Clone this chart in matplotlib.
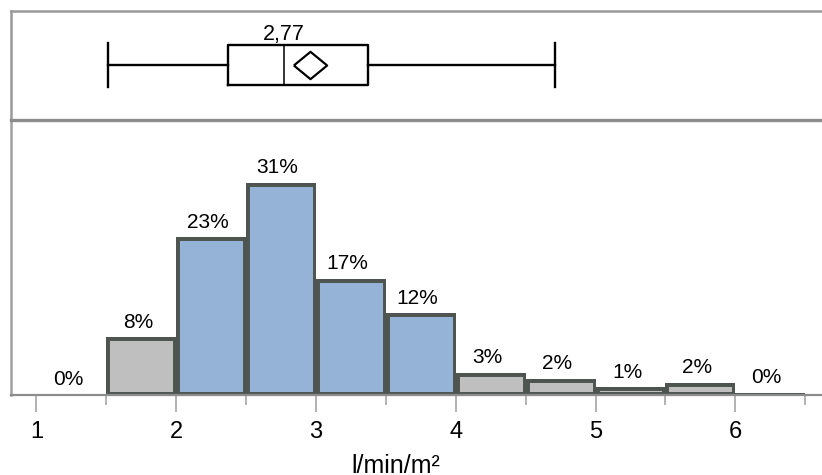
import matplotlib
matplotlib.use("Agg")
import matplotlib.pyplot as plt

plt.rcParams['font.family'] = ['Liberation Sans', 'DejaVu Sans']

# ── data ─────────────────────────────────────────────
# histogram: bins of 0.5 l/min/m², share of patients in %
bin_left = [1.0, 1.5, 2.0, 2.5, 3.0, 3.5, 4.0, 4.5, 5.0, 5.5, 6.0]
share = [0.0, 8.4, 23.0, 31.0, 16.9, 11.9, 3.2, 2.4, 1.1, 1.8, 0.3]
in_range = [False, False, True, True, True, True, False, False, False, False, False]
bin_width = 0.5

# box plot summary
whisker_low = 1.51
q1 = 2.37
median = 2.77
q3 = 3.37
whisker_high = 4.71
mean = 2.96

major_ticks = [1, 2, 3, 4, 5, 6]
minor_ticks = [1.5, 2.5, 3.5, 4.5, 5.5, 6.5]
x_label = 'l/min/m²'

# ── layout ───────────────────────────────────────────
W, H = 822, 475
fig = plt.figure(figsize=(W / 100, H / 100), dpi=100)
left = 11 / W
ax_hist = fig.add_axes([left, (H - 395) / H, 1 - left, (395 - 119.5) / H])
ax_box = fig.add_axes([left, (H - 119.5) / H, 1 - left, (119.5 - 10.5) / H])
ax_box.patch.set_visible(False)

xlim = (0.818, 6.62)

# ── box plot ─────────────────────────────────────────
stats = [dict(med=median, q1=q1, q3=q3, whislo=whisker_low,
              whishi=whisker_high, mean=mean, fliers=[])]
diamond = [(-1, 0), (0, 0.82), (1, 0), (0, -0.82), (-1, 0)]
box_w = 0.376
ax_box.bxp(stats, positions=[0.5], widths=box_w, capwidths=0.41,
           orientation='horizontal', showmeans=True, showfliers=False,
           boxprops=dict(color='black', linewidth=1.7),
           whiskerprops=dict(color='black', linewidth=1.7),
           capprops=dict(color='black', linewidth=1.7),
           medianprops=dict(color='black', linewidth=1.1),
           meanprops=dict(marker=diamond, markersize=24,
                          markerfacecolor='none', markeredgecolor='black',
                          markeredgewidth=1.6))
ax_box.annotate(f'{median:.2f}'.replace('.', ','),
                xy=(median, 0.5 + box_w / 2), xytext=(0, 3),
                textcoords='offset points', ha='center', va='baseline',
                fontsize=15.5)
ax_box.set_xlim(*xlim)
ax_box.set_ylim(0, 1)
ax_box.set_xticks([])
ax_box.set_yticks([])
ax_box.spines['right'].set_visible(False)
ax_box.spines['top'].set_color('#999999')
ax_box.spines['top'].set_linewidth(1.8)
ax_box.spines['left'].set_color('#999999')
ax_box.spines['left'].set_linewidth(1.8)
ax_box.spines['bottom'].set_color('#8c8c8c')
ax_box.spines['bottom'].set_linewidth(2.4)

# ── histogram ────────────────────────────────────────
colors = ['#95b3d7' if r else '#bfbfbf' for r in in_range]
bars = ax_hist.bar(bin_left, share, width=bin_width, align='edge',
                   color=colors, edgecolor='#4e5550', linewidth=5)
# keep only the inner half of each outline
for b in bars:
    b.set_clip_path(b)

for x, v in zip(bin_left, share):
    ax_hist.annotate(f'{v:.0f}%', xy=(x + bin_width / 2, v), xytext=(-2.5, 7),
                     textcoords='offset points', ha='center', va='baseline',
                     fontsize=15)

ax_hist.set_xlim(*xlim)
ax_hist.set_ylim(0, 40.2)
ax_hist.set_yticks([])
ax_hist.set_xticks(major_ticks)
ax_hist.set_xticks(minor_ticks, minor=True)
ax_hist.tick_params(axis='x', which='major', length=12, width=1.2,
                    color='#a6a6a6', labelsize=17, pad=7)
ax_hist.tick_params(axis='x', which='minor', length=7, width=1.2,
                    color='#a6a6a6')
for s in ['top', 'right']:
    ax_hist.spines[s].set_visible(False)
ax_hist.spines['left'].set_color('#a0a0a0')
ax_hist.spines['left'].set_linewidth(1.8)
ax_hist.spines['bottom'].set_color('#8c8c8c')
ax_hist.spines['bottom'].set_linewidth(1.6)

ax_hist.set_xlabel(x_label, fontsize=18)
ax_hist.xaxis.set_label_coords(0.475, -0.2836)
ax_hist.xaxis.label.set_va('baseline')

fig.savefig('out.png', dpi=100)
